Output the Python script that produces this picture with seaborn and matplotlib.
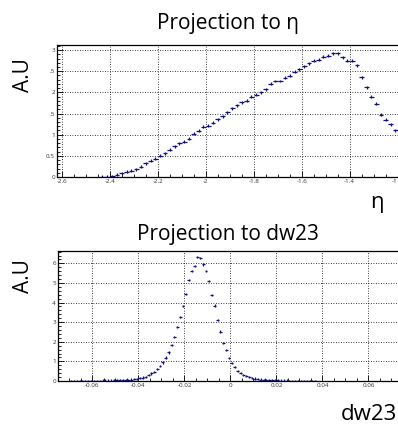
import matplotlib
matplotlib.use("Agg")
import matplotlib.pyplot as plt
import numpy as np
import seaborn as sns
from matplotlib.ticker import FixedLocator, MultipleLocator


# Projection to eta: bin centres (0.02 wide) and contents
eta_centers = np.round(np.arange(-2.43, -1.20, 0.02), 2)
eta_values = [
    0.005, 0.01,
    0.02, 0.05, 0.09, 0.12, 0.15, 0.18, 0.24, 0.32, 0.39, 0.43,
    0.50, 0.56, 0.65, 0.73, 0.80, 0.83, 0.90, 1.02, 1.09,
    1.19, 1.21, 1.28, 1.36, 1.44, 1.53, 1.62, 1.70, 1.77, 1.80,
    1.90, 1.94, 2.00, 2.08, 2.20, 2.27, 2.27, 2.35, 2.39, 2.49,
    2.55, 2.62, 2.69, 2.75, 2.77, 2.84, 2.87, 2.92, 2.92, 2.83,
    2.75, 2.75, 2.64, 2.36, 2.12, 1.90, 1.73, 1.47, 1.35, 1.25, 1.11,
]
eta_ticks = [-2.6, -2.4, -2.2, -2.0, -1.8, -1.6, -1.4, -1.2]
eta_ticklabels = ["-2.6", "-2.4", "-2.2", "-2", "-1.8", "-1.6", "-1.4", "-1"]
eta_yticks = [0, 0.5, 1, 1.5, 2, 2.5, 3]
eta_yticklabels = ["0", "0.5", "1", ".5", "2", ".5", "3"]

# Projection to dw23: bin centres (0.00125 wide) and contents
dw_centers = -0.074375 + 0.00125 * np.arange(4, 90)
dw_values = [
    0.005, 0.006, 0.007, 0.008, 0.009, 0.010, 0.011, 0.012,
    0.013, 0.014, 0.016, 0.018, 0.020, 0.022, 0.025, 0.028,
    0.030, 0.035, 0.04, 0.05, 0.06, 0.07, 0.09, 0.11,
    0.14, 0.17, 0.22, 0.31, 0.39, 0.47, 0.61, 0.78, 0.95, 1.19,
    1.46, 1.84, 2.24, 2.77, 3.28, 3.84, 4.45, 5.15, 5.61, 5.88,
    6.31, 6.26, 5.95, 5.60, 5.10, 4.39, 3.85, 3.11, 2.52, 1.93,
    1.58, 1.18, 0.92, 0.73, 0.51, 0.40, 0.32, 0.24, 0.19, 0.15,
    0.12, 0.09, 0.07, 0.06, 0.05, 0.04, 0.035, 0.03, 0.027, 0.024,
    0.021, 0.018, 0.016, 0.014, 0.012, 0.010, 0.009, 0.008, 0.007, 0.006,
    0.005, 0.004,
]
dw_ticks = [-0.06, -0.04, -0.02, 0, 0.02, 0.04, 0.06]
dw_ticklabels = ["-0.06", "-0.04", "-0.02", "0", "0.02", "0.04", "0.06"]
dw_yticks = [0, 1, 2, 3, 4, 5, 6]

MARK = "#10107a"
FONT = ["Open Sans", "DejaVu Sans"]

sns.set_theme(style="ticks")
plt.rcParams["font.family"] = FONT
plt.rcParams["text.color"] = "black"


def draw_hist(ax, centers, values, width, yerr):
    ax.errorbar(centers, values, xerr=width / 2, yerr=yerr, fmt="none",
                ecolor=MARK, elinewidth=0.9, capsize=0)
    ax.grid(True, which="major", color="black", linestyle=(0, (1, 2)),
            linewidth=0.6)
    ax.tick_params(which="both", direction="in", labelsize=4.5,
                   labelcolor="#333333", color="black", width=0.6)
    ax.tick_params(which="major", length=4, pad=1.5)
    ax.tick_params(which="minor", length=2.2)
    sns.despine(ax=ax, top=False, right=True)
    for s in ("left", "bottom", "top"):
        ax.spines[s].set_linewidth(0.9)
        ax.spines[s].set_color("black")


fig = plt.figure(figsize=(3.98, 4.24), dpi=100)

ax1 = fig.add_axes([0.1432, 0.5825, 0.8568, 0.3113])
draw_hist(ax1, eta_centers, eta_values, 0.02, 0.035)
ax1.set_xlim(-2.6196, -1.1988)
ax1.set_ylim(0, 3.12)
ax1.xaxis.set_major_locator(FixedLocator(eta_ticks))
ax1.set_xticklabels(eta_ticklabels)
ax1.get_xticklabels()[-1].set_horizontalalignment("right")
ax1.xaxis.set_minor_locator(MultipleLocator(0.05))
ax1.yaxis.set_major_locator(FixedLocator(eta_yticks))
ax1.set_yticklabels(eta_yticklabels)
ax1.yaxis.set_minor_locator(MultipleLocator(0.1))

ax2 = fig.add_axes([0.1457, 0.1014, 0.8668, 0.3066])
draw_hist(ax2, dw_centers, dw_values, 0.00125, 0.06)
ax2.set_xlim(-0.075, 0.075)
ax2.set_ylim(0, 6.63)
ax2.xaxis.set_major_locator(FixedLocator(dw_ticks))
ax2.set_xticklabels(dw_ticklabels)
ax2.xaxis.set_minor_locator(MultipleLocator(0.005))
ax2.yaxis.set_major_locator(FixedLocator(dw_yticks))
ax2.yaxis.set_minor_locator(MultipleLocator(0.2))

fig.text(0.573, 0.9316, "Projection to η", ha="center", va="baseline",
         fontsize=15)
fig.text(0.573, 0.434, "Projection to dw23", ha="center", va="baseline",
         fontsize=15)
fig.text(0.058, 0.823, "A.U", rotation=90, ha="center", va="center",
         fontsize=15)
fig.text(0.058, 0.349, "A.U", rotation=90, ha="center", va="center",
         fontsize=15)
fig.text(0.947, 0.51, "η", ha="center", va="baseline", fontsize=16)
fig.text(0.998, 0.01, "dw23", ha="right", va="baseline", fontsize=16)

fig.savefig("out.png", dpi=100)
